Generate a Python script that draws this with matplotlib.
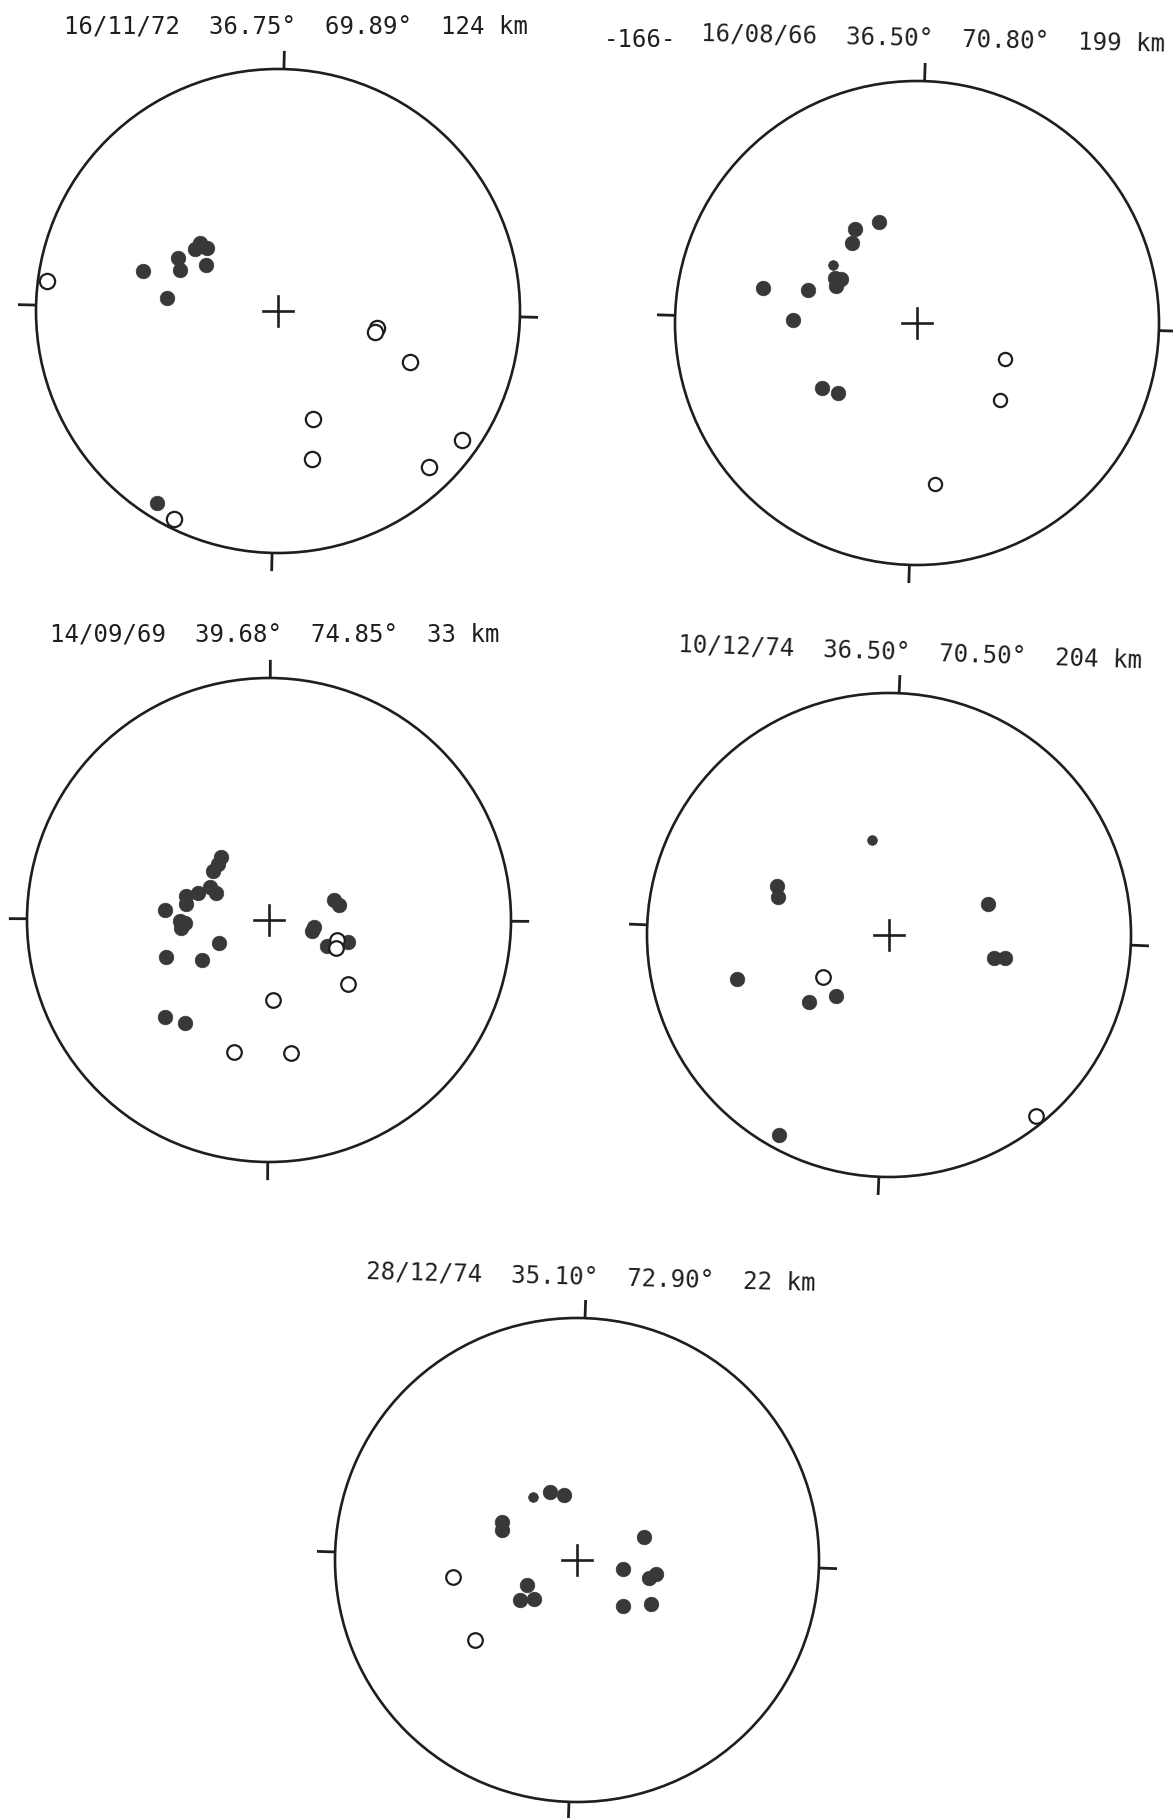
import matplotlib
matplotlib.use("Agg")
import matplotlib.pyplot as plt
from matplotlib.patches import Circle
import numpy as np

W, H, DPI = 1173, 1818, 100

# ---------------- data (positions normalised to the stereonet radius) -------------
# Panel 1: 16/11/72
p1_solid_x = [-0.557, -0.458, -0.412, -0.405, -0.344, -0.321, -0.295, -0.298, -0.499]
p1_solid_y = [0.165, 0.055, 0.217, 0.169, 0.255, 0.280, 0.260, 0.189, -0.795]
p1_small_x = []
p1_small_y = []
p1_open_x = [-0.954, 0.408, 0.402, 0.545, 0.145, 0.142, 0.759, 0.626, -0.431]
p1_open_y = [0.126, -0.071, -0.087, -0.209, -0.446, -0.611, -0.531, -0.646, -0.861]

# Panel 2: 16/08/66
p2_solid_x = [-0.157, -0.257, -0.270, -0.338, -0.313, -0.335, -0.637, -0.452, -0.512, -0.391, -0.328]
p2_solid_y = [0.417, 0.390, 0.332, 0.186, 0.181, 0.154, 0.143, 0.137, 0.011, -0.267, -0.288]
p2_small_x = [-0.349]
p2_small_y = [0.241]
p2_open_x = [0.364, 0.343, 0.076]
p2_open_y = [-0.148, -0.319, -0.667]

# Panel 3: 14/09/69
p3_solid_x = [-0.200, -0.212, -0.231, -0.243, -0.220, -0.292, -0.342, -0.342, -0.428, -0.369,
              -0.346, -0.362, -0.208, -0.426, -0.277, -0.428, -0.349, 0.269, 0.289, 0.185,
              0.178, 0.238, 0.326]
p3_solid_y = [0.259, 0.231, 0.203, 0.136, 0.111, 0.111, 0.101, 0.065, 0.041, -0.006,
              -0.014, -0.033, -0.097, -0.152, -0.165, -0.402, -0.426, 0.084, 0.062, -0.030,
              -0.046, -0.109, -0.090]
p3_small_x = []
p3_small_y = []
p3_open_x = [0.280, 0.277, 0.328, 0.018, -0.143, 0.092]
p3_open_y = [-0.082, -0.114, -0.263, -0.331, -0.544, -0.549]

# Panel 4: 10/12/74
p4_solid_x = [-0.464, -0.458, 0.408, 0.435, 0.479, -0.630, -0.329, -0.219, -0.456]
p4_solid_y = [0.204, 0.155, 0.128, -0.093, -0.093, -0.180, -0.275, -0.253, -0.828]
p4_small_x = [-0.071]
p4_small_y = [0.393]
p4_open_x = [-0.272, 0.607]
p4_open_y = [-0.172, -0.749]

# Panel 5: 28/12/74
p5_solid_x = [-0.110, -0.054, -0.310, -0.311, 0.276, 0.192, 0.328, 0.298, -0.206, -0.236,
              -0.176, 0.192, 0.304]
p5_solid_y = [0.282, 0.268, 0.155, 0.124, 0.096, -0.039, -0.057, -0.074, -0.102, -0.167,
              -0.160, -0.191, -0.180]
p5_small_x = [-0.183]
p5_small_y = [0.262]
p5_open_x = [-0.511, -0.423]
p5_open_y = [-0.070, -0.332]

titles = ["16/11/72  36.75\u00b0  69.89\u00b0  124 km",
          "16/08/66  36.50\u00b0  70.80\u00b0  199 km",
          "14/09/69  39.68\u00b0  74.85\u00b0  33 km",
          "10/12/74  36.50\u00b0  70.50\u00b0  204 km",
          "28/12/74  35.10\u00b0  72.90\u00b0  22 km"]
page_label = "-166-"

# ---------------- layout ---------------------------------------------------------
centers = [(278, 311), (917, 323), (269, 920), (889, 935), (577, 1560)]
radius = 242
tilts = [1.4, 1.8, 0.3, 2.4, 1.9]          # scan tilt, degrees clockwise
title_pos = [(64, 27), (701, 34), (50, 634), (678, 645), (366, 1272)]
title_rot = [0.0, -1.3, 0.0, -2.0, -1.5]

panels = [
    (p1_solid_x, p1_solid_y, p1_small_x, p1_small_y, p1_open_x, p1_open_y),
    (p2_solid_x, p2_solid_y, p2_small_x, p2_small_y, p2_open_x, p2_open_y),
    (p3_solid_x, p3_solid_y, p3_small_x, p3_small_y, p3_open_x, p3_open_y),
    (p4_solid_x, p4_solid_y, p4_small_x, p4_small_y, p4_open_x, p4_open_y),
    (p5_solid_x, p5_solid_y, p5_small_x, p5_small_y, p5_open_x, p5_open_y),
]
open_ms = [11, 9.5, 10.5, 10.5, 10.5]

INK = "#1e1e1e"
DOT = "#383838"
EXT = 1.25
FS = 17.3

fig = plt.figure(figsize=(W / DPI, H / DPI), dpi=DPI)
fig.patch.set_facecolor("white")

for i, (sx, sy, smx, smy, ox, oy) in enumerate(panels):
    cx, cy = centers[i]
    size = 2 * EXT * radius
    ax = fig.add_axes([(cx - EXT * radius) / W, 1 - (cy + EXT * radius) / H, size / W, size / H])
    ax.set_xlim(-EXT, EXT)
    ax.set_ylim(-EXT, EXT)
    ax.set_aspect("equal")
    ax.axis("off")

    ax.add_patch(Circle((0, 0), 1.0, fill=False, ec=INK, lw=1.9, zorder=2))

    # cardinal ticks (rotated by scan tilt)
    t = np.deg2rad(tilts[i])
    for base in (90, 0, -90, 180):
        a = np.deg2rad(base) - t
        ax.plot([np.cos(a), 1.075 * np.cos(a)], [np.sin(a), 1.075 * np.sin(a)],
                color=INK, lw=2.0, solid_capstyle="butt", zorder=2)

    # centre cross
    ax.plot([-0.062, 0.062], [0, 0], color=INK, lw=1.9, zorder=2)
    ax.plot([0, 0], [-0.062, 0.062], color=INK, lw=1.9, zorder=2)

    ax.plot(sx, sy, "o", ms=10.5, mfc=DOT, mec=DOT, mew=0.5, ls="none", zorder=3)
    ax.plot(smx, smy, "o", ms=7, mfc=DOT, mec=DOT, mew=0.5, ls="none", zorder=3)
    ax.plot(ox, oy, "o", ms=open_ms[i], mfc="white", mec=INK, mew=1.6, ls="none", zorder=4)

    tx, ty = title_pos[i]
    fig.text(tx / W, 1 - ty / H, titles[i], fontsize=FS, family="DejaVu Sans Mono",
             color=INK, ha="left", va="center", rotation=title_rot[i],
             rotation_mode="anchor")

fig.text(604 / W, 1 - 40 / H, page_label, fontsize=FS, family="DejaVu Sans Mono",
         color=INK, ha="left", va="center")

fig.savefig("out.png", dpi=DPI, facecolor="white")
